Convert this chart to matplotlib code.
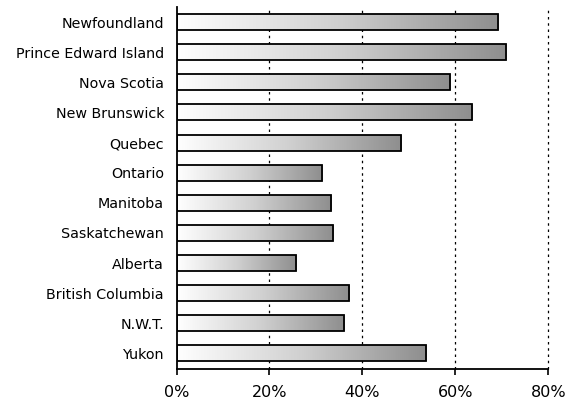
import numpy as np
import matplotlib
matplotlib.use("Agg")
import matplotlib.pyplot as plt
from matplotlib.colors import LinearSegmentedColormap
from matplotlib.ticker import FuncFormatter

# datos
provincias = ["Newfoundland", "Prince Edward Island", "Nova Scotia", "New Brunswick",
              "Quebec", "Ontario", "Manitoba", "Saskatchewan", "Alberta",
              "British Columbia", "N.W.T.", "Yukon"]
valores = [69.1, 71.0, 58.9, 63.5, 48.3, 31.4, 33.3, 33.6, 25.8, 37.1, 36.0, 53.6]

fig = plt.figure(figsize=(5.66, 4.04), dpi=100)
ax = fig.add_axes([176.5 / 566, 1 - 368.5 / 404, (548.3 - 176.5) / 566, (368.5 - 7) / 404])

y = np.arange(len(provincias))
barras = ax.barh(y, valores, height=0.53, facecolor="none", edgecolor="black",
                 linewidth=1.3, zorder=3)

# degradado blanco -> gris en cada barra
cmap = LinearSegmentedColormap.from_list("g", ["#ffffff", "#d0d0d0", "#8e8e8e"])
grad = np.linspace(0, 1, 256).reshape(1, -1)
for b in barras:
    x0, y0 = b.get_x(), b.get_y()
    im = ax.imshow(grad, cmap=cmap, aspect="auto", zorder=2,
                   extent=[x0, x0 + b.get_width(), y0, y0 + b.get_height()])
    im.set_clip_path(b)

ax.set_xlim(0, 80)
ax.set_ylim(len(provincias) - 0.5, -0.5)
ax.set_xticks([0, 20, 40, 60, 80])
ax.xaxis.set_major_formatter(FuncFormatter(lambda v, p: f"{v:.0f}%"))
ax.set_yticks(y)
ax.set_yticklabels(provincias, fontsize=10.3)
ax.tick_params(axis="x", labelsize=11.5, length=4, width=1.2, direction="out", pad=8)
ax.tick_params(axis="y", length=0, pad=9)

for xv in [20, 40, 60, 80]:
    ax.axvline(xv, color="black", linestyle=(0, (2, 3)), linewidth=0.9, zorder=1,
               clip_on=False)

ax.spines["top"].set_visible(False)
ax.spines["right"].set_visible(False)
ax.spines["left"].set_linewidth(1.3)
ax.spines["bottom"].set_linewidth(1.3)

fig.savefig("out.png", dpi=100)
